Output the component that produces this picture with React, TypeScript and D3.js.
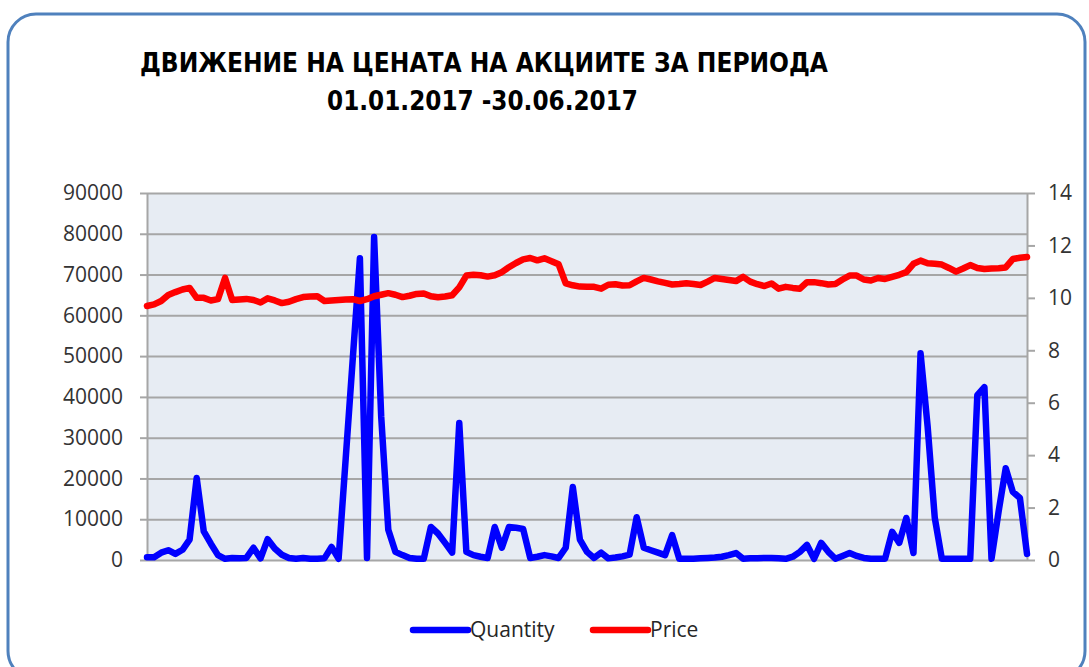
import React, { useEffect, useRef } from 'react';
import * as d3 from 'd3';

const titleLines = ['ДВИЖЕНИЕ НА ЦЕНАТА НА АКЦИИТЕ ЗА ПЕРИОДА', '01.01.2017 -30.06.2017'];
const seriesNames = ['Quantity', 'Price'];
const quantityTicks = [0, 10000, 20000, 30000, 40000, 50000, 60000, 70000, 80000, 90000];
const priceTicks = [0, 2, 4, 6, 8, 10, 12, 14];

// daily traded quantity (one value per trading day)
const quantity = [
  700, 700, 1800, 2400, 1500, 2500, 5000, 20100, 7000, 4000,
  1200, 300, 500, 400, 500, 3000, 400, 5100, 2800, 1300,
  500, 300, 500, 300, 300, 400, 3200, 300, 24900, 49500,
  74000, 500, 79200, 35200, 7400, 2000, 1200, 500, 300, 300,
  8100, 6500, 4200, 1800, 33600, 2000, 1200, 800, 500, 8100,
  3000, 8100, 7900, 7600, 500, 800, 1200, 900, 500, 3000,
  17900, 5000, 2000, 500, 1800, 400, 600, 900, 1300, 10500,
  3000, 2400, 1800, 1200, 6100, 300, 300, 300, 400, 500,
  600, 800, 1200, 1700, 300, 400, 400, 500, 500, 400,
  300, 800, 2000, 3700, 300, 4200, 2000, 300, 1000, 1700,
  1000, 500, 300, 300, 300, 6900, 4200, 10300, 1700, 50700,
  32700, 10400, 300, 300, 300, 300, 300, 40400, 42400, 300,
  11900, 22500, 16700, 15200, 1500,
];

// closing price per trading day
const price = [
  9.69, 9.75, 9.88, 10.11, 10.22, 10.32, 10.38, 10.0, 10.0, 9.9,
  9.95, 10.76, 9.92, 9.94, 9.96, 9.92, 9.82, 9.98, 9.9, 9.8,
  9.85, 9.95, 10.03, 10.05, 10.06, 9.88, 9.9, 9.92, 9.94, 9.95,
  9.88, 9.95, 10.06, 10.12, 10.18, 10.12, 10.03, 10.08, 10.15, 10.17,
  10.06, 10.02, 10.05, 10.1, 10.4, 10.85, 10.88, 10.86, 10.81, 10.86,
  10.98, 11.17, 11.33, 11.47, 11.52, 11.43, 11.51, 11.4, 11.28, 10.55,
  10.48, 10.43, 10.42, 10.42, 10.35, 10.5, 10.52, 10.47, 10.48, 10.63,
  10.76, 10.7, 10.63, 10.57, 10.51, 10.53, 10.56, 10.53, 10.49, 10.62,
  10.76, 10.72, 10.68, 10.64, 10.8, 10.62, 10.52, 10.45, 10.55, 10.35,
  10.42, 10.38, 10.35, 10.6, 10.6, 10.56, 10.51, 10.53, 10.7, 10.85,
  10.85, 10.7, 10.66, 10.76, 10.72, 10.8, 10.88, 10.98, 11.3, 11.42,
  11.32, 11.3, 11.27, 11.14, 11.0, 11.12, 11.25, 11.14, 11.1, 11.12,
  11.13, 11.16, 11.48, 11.53, 11.56,
];

const App = () => {
  const svgRef = useRef(null);

  useEffect(() => {
    const width = 1089;
    const height = 667;
    const margin = { top: 193, right: 62, bottom: 107, left: 147 };
    const plotW = width - margin.left - margin.right;
    const plotH = height - margin.top - margin.bottom;

    const svg = d3.select(svgRef.current);
    svg.selectAll('*').remove();

    // outer rounded frame
    svg
      .append('rect')
      .attr('x', 8)
      .attr('y', 14)
      .attr('width', 1077)
      .attr('height', 665)
      .attr('rx', 28)
      .attr('fill', '#fff')
      .attr('stroke', '#4F81BD')
      .attr('stroke-width', 3);

    // title
    const titleFont = "'Liberation Sans Narrow', 'DejaVu Sans Condensed', 'Open Sans', sans-serif";
    svg
      .append('text')
      .attr('x', 140)
      .attr('y', 72)
      .attr('textLength', 688)
      .attr('lengthAdjust', 'spacingAndGlyphs')
      .style('font-family', titleFont)
      .style('font-weight', 'bold')
      .style('font-size', '27px')
      .attr('fill', '#000')
      .text(titleLines[0]);
    svg
      .append('text')
      .attr('x', 327)
      .attr('y', 110)
      .attr('textLength', 311)
      .attr('lengthAdjust', 'spacingAndGlyphs')
      .style('font-family', titleFont)
      .style('font-weight', 'bold')
      .style('font-size', '27px')
      .attr('fill', '#000')
      .text(titleLines[1]);

    const x = d3.scaleLinear().domain([0, quantity.length - 1]).range([margin.left, margin.left + plotW]);
    const yQ = d3.scaleLinear().domain([0, 90000]).range([margin.top + plotH, margin.top]);
    const yP = d3.scaleLinear().domain([0, 14]).range([margin.top + plotH, margin.top]);

    // plot background
    svg
      .append('rect')
      .attr('x', margin.left)
      .attr('y', margin.top)
      .attr('width', plotW)
      .attr('height', plotH)
      .attr('fill', '#E7ECF3');

    // gridlines
    const grid = svg
      .append('g')
      .attr('transform', `translate(${margin.left},0)`)
      .call(d3.axisLeft(yQ).tickValues(quantityTicks).tickSize(-plotW).tickFormat(() => ''));
    grid.select('.domain').remove();
    grid.selectAll('line').attr('stroke', '#A6A6A6').attr('stroke-width', 2);

    const axisFont = "'Open Sans', sans-serif";

    // left axis
    const left = svg
      .append('g')
      .attr('transform', `translate(${margin.left},0)`)
      .call(d3.axisLeft(yQ).tickValues(quantityTicks).tickSize(7).tickSizeOuter(0).tickPadding(17).tickFormat(d3.format('d')));
    left.select('.domain').attr('stroke', '#A6A6A6').attr('stroke-width', 2);
    left.selectAll('line').attr('stroke', '#A6A6A6').attr('stroke-width', 2);
    left.selectAll('text').style('font-family', axisFont).style('font-size', '21px').attr('fill', '#333');

    // right axis
    const right = svg
      .append('g')
      .attr('transform', `translate(${margin.left + plotW},0)`)
      .call(d3.axisRight(yP).tickValues(priceTicks).tickSize(8).tickSizeOuter(0).tickPadding(13));
    right.select('.domain').attr('stroke', '#A6A6A6').attr('stroke-width', 2);
    right.selectAll('line').attr('stroke', '#A6A6A6').attr('stroke-width', 2);
    right.selectAll('text').style('font-family', axisFont).style('font-size', '21px').attr('fill', '#333');

    // series lines
    const lineQ = d3.line<number>().x((d, i) => x(i)).y((d) => yQ(d));
    const lineP = d3.line<number>().x((d, i) => x(i)).y((d) => yP(d));

    svg
      .append('path')
      .datum(quantity)
      .attr('d', lineQ)
      .attr('fill', 'none')
      .attr('stroke', '#0000FF')
      .attr('stroke-width', 6.5)
      .attr('stroke-linejoin', 'round')
      .attr('stroke-linecap', 'round');

    svg
      .append('path')
      .datum(price)
      .attr('d', lineP)
      .attr('fill', 'none')
      .attr('stroke', '#FF0000')
      .attr('stroke-width', 6.5)
      .attr('stroke-linejoin', 'round')
      .attr('stroke-linecap', 'round');

    // legend
    const legendColors = ['#0000FF', '#FF0000'];
    const legendX = [413, 593];
    const legend = svg
      .selectAll('g.legend')
      .data(seriesNames)
      .enter()
      .append('g')
      .attr('class', 'legend')
      .attr('transform', (d, i) => `translate(${legendX[i]},630)`);
    legend
      .append('line')
      .attr('x1', 0)
      .attr('x2', 55)
      .attr('stroke', (d, i) => legendColors[i])
      .attr('stroke-width', 6.5)
      .attr('stroke-linecap', 'round');
    legend
      .append('text')
      .attr('x', 57)
      .attr('y', 7)
      .style('font-family', axisFont)
      .style('font-size', '21px')
      .attr('fill', '#262626')
      .text((d) => d);
  }, []);

  return (
    <svg
      ref={svgRef}
      width={1089}
      height={667}
      style={{ position: 'fixed', left: 0, top: 0, background: '#fff' }}
    ></svg>
  );
};

export default App;
